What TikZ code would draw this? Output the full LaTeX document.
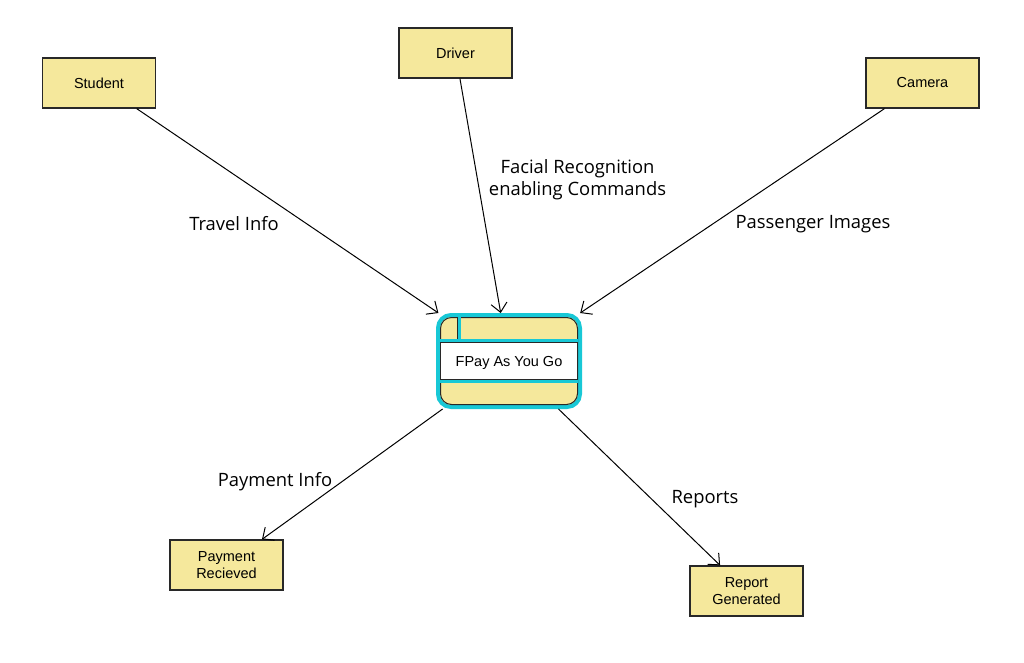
\documentclass[tikz,border=0pt]{standalone}
\usepackage{fontspec}
\setmainfont{Liberation Sans}
\newfontfamily\lblfont{Open Sans}
\usetikzlibrary{arrows.meta}
\definecolor{boxfill}{RGB}{245,232,156}
\definecolor{boxline}{RGB}{40,40,40}
\definecolor{selcyan}{RGB}{24,200,214}

\begin{document}
\begin{tikzpicture}[x=1pt,y=-1pt,
  entity/.style={draw=boxline, line width=1.3pt, fill=boxfill, minimum width=113pt,
    minimum height=50pt, inner sep=0pt, align=center, font=\fontsize{14.5}{17.5}\selectfont},
  flowlbl/.style={font=\lblfont\fontsize{18.4}{22}\selectfont, align=center, inner sep=0pt},
  flow/.style={line width=1pt, -{Straight Barb[length=9pt,width=16pt,line width=1pt]}}]
  \useasboundingbox[fill=white] (0,0) rectangle (1024,662);

  % external entities
  \node[entity] (student) at (99,83) {Student};
  \node[entity] (driver) at (455.5,53) {Driver};
  \node[entity] (camera) at (922.5,83) {Camera};
  \node[entity] (paid) at (226.5,565) {Payment\\Recieved};
  \node[entity] (report) at (746.5,591) {Report\\Generated};

  % process
  \node[draw=selcyan, line width=4pt, fill=boxfill, rounded corners=13pt,
    minimum width=142pt, minimum height=92pt] (fpay) at (509,361) {};
  \draw[boxline, line width=1pt, rounded corners=11pt] (440.5,317.5) rectangle (577.5,404.5);
  \fill[white] (440.5,341) rectangle (577.5,381);
  \draw[selcyan, line width=3pt] (440,340.5) -- (578,340.5);
  \draw[selcyan, line width=3pt] (440,381.5) -- (578,381.5);
  \draw[selcyan, line width=3pt] (459.5,317) -- (459.5,339);
  \draw[boxline, line width=1pt] (440.5,342.5) rectangle (577.5,379.5);
  \draw[boxline, line width=1pt] (457.5,317.5) -- (457.5,339);
  \node[font=\fontsize{14.5}{17.5}\selectfont] (fpaytxt) at (509,362.5) {FPay As You Go};

  % data flows
  \draw[flow] (student) -- (fpay);
  \draw[flow] (driver) -- (fpay);
  \draw[flow] (camera) -- (fpay);
  \draw[flow] (fpay) -- (paid);
  \draw[flow] (fpay) -- (report);

  \node[flowlbl] (travel) at (234,224) {Travel Info};
  \node[flowlbl] (facial) at (577.5,180) {Facial Recognition\\enabling Commands};
  \node[flowlbl] (images) at (813,224) {Passenger Images};
  \node[flowlbl] (payinfo) at (275,482) {Payment Info};
  \node[flowlbl] (reports) at (705,499) {Reports};
\end{tikzpicture}
\end{document}
